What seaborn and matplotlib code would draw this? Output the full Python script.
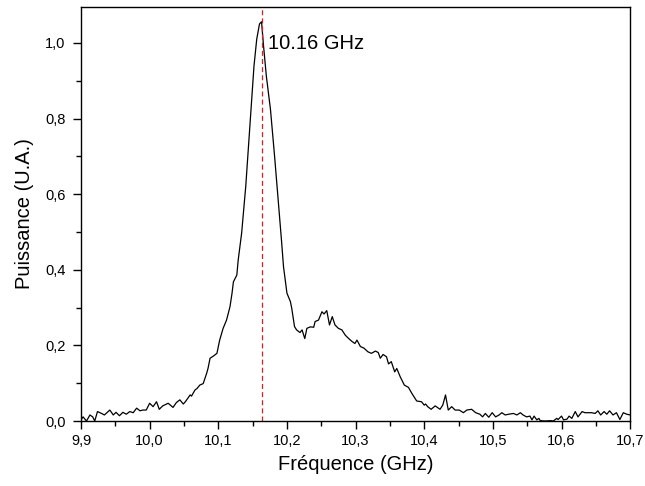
import numpy as np
import pandas as pd
import matplotlib
matplotlib.use('Agg')
import matplotlib.pyplot as plt
from matplotlib.ticker import MultipleLocator, FuncFormatter
import seaborn as sns

# spectrum
freq = [9.900, 9.903, 9.908, 9.913, 9.917, 9.920, 9.924, 9.930, 9.934, 9.942,
        9.947, 9.951, 9.956, 9.961, 9.966, 9.971, 9.976, 9.981, 9.986, 9.990,
        9.995, 10.000, 10.005, 10.010, 10.014, 10.019, 10.027, 10.034, 10.039, 10.044,
        10.049, 10.052, 10.059, 10.061, 10.066, 10.069, 10.073, 10.078, 10.083, 10.085,
        10.088, 10.093, 10.098, 10.102, 10.107, 10.112, 10.117, 10.120, 10.122, 10.127,
        10.129, 10.134, 10.140, 10.146, 10.152, 10.156, 10.160, 10.163, 10.166, 10.170,
        10.176, 10.182, 10.188, 10.192, 10.195, 10.200, 10.205, 10.207, 10.211, 10.214,
        10.219, 10.222, 10.226, 10.229, 10.234, 10.239, 10.241, 10.246, 10.251, 10.254,
        10.258, 10.262, 10.266, 10.270, 10.275, 10.280, 10.285, 10.290, 10.295, 10.299,
        10.302, 10.307, 10.312, 10.318, 10.323, 10.329, 10.333, 10.336, 10.340, 10.345,
        10.348, 10.352, 10.357, 10.360, 10.365, 10.371, 10.377, 10.382, 10.389, 10.396,
        10.400, 10.402, 10.405, 10.410, 10.416, 10.423, 10.427, 10.431, 10.435, 10.440,
        10.445, 10.451, 10.457, 10.462, 10.469, 10.475, 10.481, 10.485, 10.489, 10.494,
        10.499, 10.504, 10.509, 10.513, 10.518, 10.523, 10.530, 10.535, 10.540, 10.544,
        10.549, 10.554, 10.557, 10.560, 10.564, 10.567, 10.569, 10.576, 10.584, 10.588,
        10.593, 10.595, 10.600, 10.603, 10.608, 10.611, 10.615, 10.620, 10.624, 10.630,
        10.634, 10.644, 10.649, 10.653, 10.657, 10.662, 10.666, 10.670, 10.675, 10.680,
        10.685, 10.690, 10.695, 10.700]
power = [0.003, 0.011, 0.000, 0.016, 0.011, 0.000, 0.025, 0.020, 0.016, 0.029,
         0.016, 0.023, 0.014, 0.023, 0.018, 0.025, 0.022, 0.034, 0.027, 0.029,
         0.029, 0.047, 0.038, 0.051, 0.031, 0.040, 0.047, 0.036, 0.049, 0.056,
         0.045, 0.051, 0.069, 0.066, 0.082, 0.086, 0.095, 0.099, 0.126, 0.139,
         0.166, 0.172, 0.179, 0.214, 0.245, 0.267, 0.302, 0.338, 0.368, 0.386,
         0.426, 0.497, 0.621, 0.780, 0.939, 1.010, 1.050, 1.056, 0.990, 0.912,
         0.824, 0.700, 0.568, 0.479, 0.408, 0.338, 0.316, 0.298, 0.250, 0.241,
         0.234, 0.241, 0.218, 0.245, 0.249, 0.248, 0.263, 0.267, 0.289, 0.283,
         0.292, 0.254, 0.276, 0.254, 0.245, 0.241, 0.227, 0.218, 0.210, 0.205,
         0.214, 0.197, 0.193, 0.183, 0.179, 0.185, 0.181, 0.166, 0.176, 0.170,
         0.151, 0.157, 0.130, 0.139, 0.117, 0.095, 0.089, 0.073, 0.053, 0.051,
         0.042, 0.045, 0.038, 0.031, 0.040, 0.031, 0.042, 0.069, 0.029, 0.038,
         0.029, 0.029, 0.022, 0.029, 0.031, 0.022, 0.018, 0.011, 0.020, 0.010,
         0.022, 0.011, 0.016, 0.022, 0.016, 0.018, 0.020, 0.016, 0.022, 0.016,
         0.011, 0.013, 0.003, 0.013, 0.003, 0.007, 0.001, 0.000, 0.001, 0.000,
         0.007, 0.004, 0.013, 0.003, 0.005, 0.013, 0.007, 0.025, 0.011, 0.025,
         0.022, 0.022, 0.020, 0.027, 0.016, 0.025, 0.018, 0.027, 0.016, 0.022,
         0.004, 0.022, 0.018, 0.016]

peak_freq = 10.164
peak_label = '10.16 GHz'

df = pd.DataFrame({'freq': freq, 'power': power})

sns.set_theme(style='ticks')
plt.rcParams['font.family'] = ['Liberation Sans', 'DejaVu Sans']
plt.rcParams['text.color'] = 'black'
plt.rcParams['axes.labelcolor'] = 'black'
plt.rcParams['xtick.color'] = 'black'
plt.rcParams['ytick.color'] = 'black'

fig = plt.figure(figsize=(6.45, 4.86), dpi=100)
ax = fig.add_axes([0.1256, 0.1337, 0.8514, 0.852])

sns.lineplot(data=df, x='freq', y='power', ax=ax, color='black', linewidth=0.9)
ax.axvline(peak_freq, color='#d42020', linewidth=0.9, linestyle=(0, (4, 2.5)))
ax.text(10.173, 0.998, peak_label, fontsize=14.5, ha='left', va='center')

ax.set_xlim(9.9, 10.7)
ax.set_ylim(0, 1.095)
ax.xaxis.set_major_locator(MultipleLocator(0.1))
ax.xaxis.set_minor_locator(MultipleLocator(0.05))
ax.yaxis.set_major_locator(MultipleLocator(0.2))
ax.yaxis.set_minor_locator(MultipleLocator(0.1))
comma = FuncFormatter(lambda v, p: f'{v:.1f}'.replace('.', ','))
ax.xaxis.set_major_formatter(comma)
ax.yaxis.set_major_formatter(comma)
ax.tick_params(which='major', direction='out', length=6, width=1, labelsize=10.5)
ax.tick_params(which='minor', direction='out', length=3.5, width=1)
ax.tick_params(axis='x', which='major', pad=3.5)
ax.tick_params(axis='y', which='major', pad=5)
for s in ax.spines.values():
    s.set_visible(True)
    s.set_color('black')
    s.set_linewidth(1)

ax.set_xlabel('Fréquence (GHz)', fontsize=14.5, labelpad=5)
ax.set_ylabel('Puissance (U.A.)', fontsize=14.5, labelpad=8)

fig.savefig('out.png', dpi=100)
